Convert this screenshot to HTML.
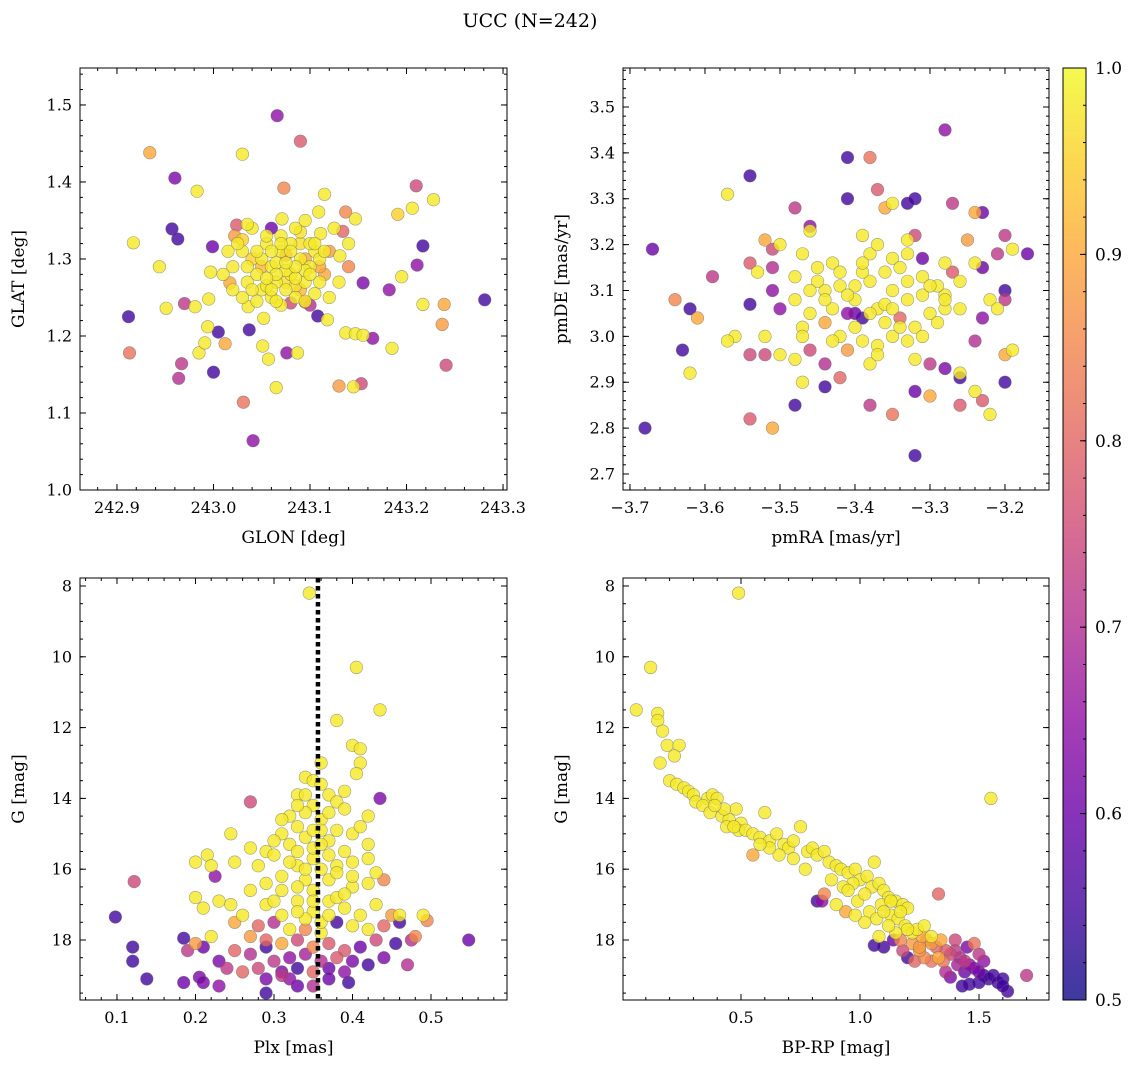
<!DOCTYPE html>
<html><head><meta charset="utf-8"><style>
html,body{margin:0;padding:0;background:#fff;}
svg{display:block;font-family:"DejaVu Serif","Liberation Serif",serif;}
</style></head><body>
<svg id="fig" width="1136" height="1067" viewBox="0 0 1136 1067" xmlns="http://www.w3.org/2000/svg">
<text x="530" y="27" font-size="19" text-anchor="middle">UCC (N=242)</text>
</svg>
<script>
// ---------- Panel 1: GLON / GLAT ----------
const glon = [243.066,243.090,242.934,243.030,242.960,243.073,243.210,242.983,243.228,243.115,243.206,243.191,243.137,243.147,243.071,242.957,243.024,243.109,243.134,242.917,242.999,242.963,243.217,243.022,243.111,242.944,243.131,243.211,243.155,243.182,243.195,242.997,243.017,242.912,242.951,242.970,242.981,242.995,243.036,243.052,243.037,243.005,242.994,243.080,243.095,243.108,243.118,243.137,243.147,243.155,243.165,243.217,243.239,243.281,243.237,243.241,243.185,242.913,242.967,242.985,242.991,243.012,243.051,243.076,243.057,243.087,243.000,242.964,243.065,243.130,243.145,243.153,243.031,243.041,
243.05,243.06,243.07,243.08,243.09,243.10,243.065,243.075,243.085,243.095,243.105,243.115,243.055,243.045,243.035,243.04,243.06,243.07,243.09,243.10,243.11,243.08,243.07,243.05,243.03,243.02,243.12,243.12,243.13,243.14,243.085,243.095,243.06,243.04,243.025,243.015,243.065,243.075,243.085,243.055,243.105,243.045,243.075,243.095,243.11,243.06,243.03,243.10,243.02,243.14,243.125,243.035,243.01,
243.065,243.075,243.085,243.095,243.08,243.07,243.09,243.10,243.06,243.05,243.045,243.055,243.075,243.085,243.095,243.065,243.11,243.105,243.04,243.035,243.055,243.09,243.115,243.03];
const glat = [1.486,1.453,1.438,1.436,1.405,1.392,1.395,1.388,1.377,1.384,1.366,1.358,1.361,1.352,1.352,1.339,1.344,1.361,1.336,1.321,1.316,1.326,1.317,1.330,1.333,1.290,1.304,1.292,1.269,1.260,1.277,1.283,1.269,1.225,1.236,1.242,1.238,1.248,1.238,1.223,1.208,1.205,1.212,1.243,1.244,1.226,1.221,1.204,1.203,1.201,1.197,1.241,1.241,1.247,1.215,1.162,1.184,1.178,1.164,1.178,1.191,1.190,1.187,1.178,1.170,1.178,1.153,1.145,1.133,1.135,1.134,1.138,1.114,1.064,
1.30,1.29,1.31,1.28,1.30,1.29,1.27,1.26,1.25,1.27,1.31,1.28,1.32,1.28,1.27,1.30,1.25,1.24,1.26,1.32,1.30,1.32,1.33,1.26,1.31,1.29,1.31,1.25,1.27,1.29,1.34,1.35,1.34,1.34,1.32,1.31,1.295,1.285,1.275,1.265,1.255,1.245,1.305,1.285,1.27,1.31,1.25,1.24,1.26,1.32,1.34,1.345,1.28,
1.28,1.27,1.29,1.30,1.31,1.32,1.32,1.28,1.26,1.29,1.31,1.275,1.295,1.265,1.245,1.245,1.29,1.32,1.26,1.29,1.33,1.335,1.31,1.325];
const probA = [.65,.78,.90,.98,.62,.85,.75,.98,.98,.98,.98,.95,.85,.98,.98,.55,.78,.98,.80,.98,.60,.55,.55,.88,.98,.98,.98,.65,.62,.65,.98,.98,.90,.55,.98,.72,.98,.98,.98,.98,.55,.55,.98,.75,.82,.55,.98,.98,.98,.98,.65,.98,.90,.55,.88,.75,.98,.82,.72,.98,.98,.90,.98,.65,.98,.98,.55,.70,.98,.88,.98,.75,.82,.65,
.98,.98,.98,.98,.98,.98,.98,.98,.98,.98,.98,.90,.98,.98,.98,.95,.98,.98,.92,.98,.98,.98,.98,.98,.98,.98,.88,.98,.98,.85,.98,.98,.60,.98,.98,.98,.98,.98,.98,.98,.98,.98,.85,.98,.98,.98,.98,.70,.98,.98,.98,.98,.98,
.98,.97,.98,.90,.98,.98,.97,.98,.98,.92,.98,.98,.98,.97,.98,.98,.90,.98,.98,.98,.98,.97,.98,.95];

// ---------- Panel 2: pmRA / pmDE ----------
const pmra = [-3.28,-3.41,-3.38,-3.54,-3.57,-3.41,-3.33,-3.32,-3.27,-3.37,-3.48,-3.36,-3.35,-3.23,-3.24,-3.46,-3.46,-3.67,-3.52,-3.39,-3.33,-3.32,-3.25,-3.20,-3.17,-3.19,-3.54,-3.51,-3.50,-3.51,-3.53,-3.47,-3.43,-3.38,-3.35,-3.31,-3.28,-3.24,-3.21,-3.20,-3.22,-3.20,-3.23,-3.27,-3.31,-3.59,-3.64,-3.62,-3.61,-3.54,-3.51,-3.50,-3.48,-3.46,-3.47,-3.47,-3.44,-3.43,-3.41,-3.40,-3.38,-3.37,-3.36,-3.35,-3.34,-3.33,-3.32,-3.30,-3.28,-3.28,-3.26,-3.29,-3.45,-3.42,-3.39,-3.36,-3.33,-3.31,-3.40,-3.42,-3.39,-3.37,-3.35,-3.33,-3.31,-3.29,-3.44,-3.46,-3.43,-3.41,-3.48,-3.50,-3.52,-3.56,-3.57,-3.52,-3.54,-3.47,-3.44,-3.42,-3.44,-3.38,-3.37,-3.32,-3.32,-3.30,-3.30,-3.28,-3.26,-3.26,-3.24,-3.24,-3.23,-3.26,-3.22,-3.20,-3.19,-3.20,-3.23,-3.21,-3.48,-3.51,-3.54,-3.38,-3.35,-3.32,-3.63,-3.62,-3.68,-3.48,-3.45,-3.42,-3.40,-3.36,-3.38,-3.34,-3.44,-3.46,-3.41,-3.39,-3.37,-3.34,-3.33,-3.30,-3.28,-3.26,-3.40,-3.39,-3.35];
const pmde = [3.45,3.39,3.39,3.35,3.31,3.30,3.29,3.30,3.29,3.32,3.28,3.28,3.29,3.27,3.27,3.24,3.23,3.19,3.21,3.22,3.21,3.22,3.21,3.22,3.18,3.19,3.16,3.19,3.20,3.15,3.14,3.18,3.16,3.18,3.17,3.17,3.16,3.16,3.18,3.10,3.08,3.08,3.15,3.14,3.13,3.13,3.08,3.06,3.04,3.07,3.10,3.06,3.08,3.05,3.02,3.00,3.10,3.06,3.05,3.08,3.12,3.06,3.03,3.10,3.04,3.08,3.02,3.05,3.06,3.09,3.12,3.11,3.12,3.14,3.14,3.14,3.12,3.09,3.02,3.00,2.99,2.98,3.00,2.99,3.00,3.03,3.03,2.97,2.99,2.97,2.95,2.96,3.00,3.00,2.99,2.96,2.96,2.90,2.89,2.91,2.94,2.94,2.96,2.95,2.88,2.87,2.94,2.93,2.91,2.92,2.99,2.88,2.86,2.85,2.83,2.96,2.97,2.90,3.04,3.06,2.85,2.80,2.82,2.85,2.83,2.74,2.97,2.92,2.80,3.13,3.15,3.11,3.11,3.07,3.05,3.02,3.08,3.10,3.09,3.16,3.20,3.15,3.18,3.11,3.08,3.06,3.05,3.04,3.06];
const probB = [.65,.55,.82,.55,.98,.55,.55,.55,.72,.78,.72,.90,.98,.60,.90,.65,.98,.60,.90,.98,.98,.75,.88,.72,.60,.98,.78,.75,.98,.70,.98,.98,.98,.98,.98,.60,.98,.98,.72,.55,.98,.72,.60,.78,.98,.72,.85,.55,.90,.55,.65,.65,.98,.98,.98,.98,.98,.98,.65,.98,.98,.98,.98,.98,.80,.98,.98,.98,.98,.98,.98,.98,.98,.98,.98,.98,.98,.98,.98,.98,.98,.98,.98,.98,.98,.98,.90,.75,.98,.88,.98,.98,.98,.98,.98,.75,.75,.98,.55,.80,.70,.98,.98,.98,.60,.90,.72,.62,.55,.98,.70,.98,.78,.78,.98,.90,.98,.55,.65,.98,.55,.90,.78,.72,.82,.55,.55,.98,.55,.98,.98,.98,.98,.98,.98,.98,.98,.98,.98,.98,.98,.98,.98,.98,.98,.98,.60,.55,.98];

// ---------- Panel 3: Plx / G ----------
const plx = [0.345,0.405,0.435,0.38,0.40,0.41,0.41,0.405,0.36,0.34,0.35,0.33,0.37,0.38,0.39,0.435,0.42,0.27,0.245,0.32,0.33,0.35,0.36,0.31,0.32,0.34,0.37,0.38,0.40,0.39,0.27,0.29,0.30,0.28,0.33,0.35,0.36,0.38,0.40,0.42,0.43,0.44,0.42,0.40,0.37,0.34,0.31,0.29,0.27,0.25,0.20,0.215,0.22,0.225,0.122,0.23,0.20,0.21,0.245,0.26,0.29,0.31,0.33,0.35,0.37,0.39,0.41,0.43,0.45,0.46,0.49,0.495,0.098,0.25,0.28,0.30,0.32,0.34,0.36,0.38,0.40,0.42,0.44,0.46,0.48,0.22,0.20,0.185,0.27,0.29,0.31,0.33,0.35,0.37,0.39,0.41,0.43,0.455,0.475,0.548,0.12,0.12,0.19,0.21,0.23,0.25,0.27,0.29,0.30,0.32,0.34,0.36,0.38,0.40,0.42,0.44,0.47,0.24,0.26,0.28,0.31,0.33,0.35,0.37,0.39,0.138,0.185,0.205,0.21,0.23,0.29,0.32,0.37,0.395,0.29,0.33,0.35,0.31,0.34,0.36,0.30,0.35,0.33,0.38,0.36,0.34,0.35,0.33,0.37,
0.31,0.33,0.35,0.37,0.39,0.36,0.34,0.32,0.34,0.36,0.38,0.40,0.39,0.37,0.33,0.31,0.35,0.30,0.41,0.42];
const gmagA = [8.2,10.3,11.5,11.8,12.5,12.6,13.0,13.3,13.0,13.4,13.5,13.9,13.9,14.1,14.3,14.0,14.5,14.1,15.0,14.5,14.8,14.2,14.6,15.0,15.3,15.1,15.2,14.9,15.0,15.5,15.4,15.5,15.6,15.9,15.9,15.7,16.0,15.9,15.8,15.7,16.1,16.3,16.4,16.5,16.3,16.3,16.2,16.4,16.6,15.8,15.8,15.6,15.9,16.2,16.35,16.9,16.8,17.1,17.0,17.3,17.0,17.3,16.9,17.2,16.9,17.1,17.3,17.0,17.3,17.3,17.3,17.45,17.35,17.5,17.6,17.5,17.7,17.7,17.8,17.5,17.6,17.7,17.6,17.5,17.9,17.9,18.1,17.95,17.9,18.0,18.1,18.0,18.2,18.1,18.3,18.2,18.0,18.1,18.0,18.0,18.2,18.6,18.3,18.2,18.6,18.3,18.4,18.2,18.6,18.5,18.4,18.6,18.5,18.6,18.7,18.5,18.7,18.8,18.9,18.8,18.9,18.8,18.9,18.8,18.9,19.1,19.2,19.05,19.2,19.3,19.1,19.1,19.1,19.2,19.5,19.3,19.3,19.0,17.4,17.5,16.9,16.6,16.5,16.8,14.9,14.4,15.4,15.5,15.6,
14.6,14.2,14.9,14.4,13.8,13.6,13.9,15.8,16.0,15.3,16.1,16.2,16.7,17.3,17.2,16.6,16.9,15.2,14.8,15.3];
const probC = [.98,.98,.98,.98,.98,.98,.98,.98,.98,.98,.98,.98,.98,.98,.98,.62,.98,.75,.98,.98,.98,.98,.98,.98,.98,.98,.98,.98,.98,.98,.98,.98,.98,.98,.98,.98,.98,.98,.98,.98,.98,.85,.98,.98,.98,.98,.98,.98,.98,.98,.98,.98,.98,.65,.75,.98,.98,.98,.98,.98,.98,.98,.98,.98,.98,.98,.98,.98,.88,.98,.98,.85,.55,.90,.80,.70,.98,.85,.98,.55,.98,.98,.80,.55,.85,.98,.88,.55,.88,.80,.90,.75,.85,.78,.78,.60,.75,.55,.70,.60,.55,.55,.72,.60,.62,.80,.70,.55,.72,.65,.68,.70,.78,.62,.55,.62,.70,.72,.80,.75,.62,.55,.80,.60,.65,.55,.60,.62,.62,.65,.62,.65,.60,.55,.55,.60,.70,.72,.98,.98,.98,.98,.98,.98,.98,.98,.98,.98,.98,
.98,.98,.98,.98,.98,.98,.98,.98,.98,.98,.98,.98,.98,.98,.98,.98,.98,.98,.98,.98];
const plxRef = [0.356];

// ---------- Panel 4: BP-RP / G ----------
const bprp = [0.49,0.12,0.06,0.15,0.15,0.17,0.19,0.24,0.16,0.22,0.20,0.23,0.26,0.28,0.30,0.36,0.38,0.40,0.31,0.34,0.37,0.42,0.45,0.48,0.50,0.44,0.49,0.52,0.55,0.58,0.60,0.62,0.65,0.68,0.70,0.72,0.75,0.78,0.80,0.82,0.85,0.87,0.90,0.92,0.95,0.98,1.00,1.03,1.05,1.08,1.10,1.12,1.15,1.18,1.20,1.06,0.97,0.93,0.88,0.85,0.95,0.99,1.02,1.04,1.07,1.09,0.55,0.84,1.33,1.55,1.13,1.16,1.19,1.22,1.24,1.26,1.28,1.30,1.32,1.34,1.36,1.38,1.40,1.42,1.44,1.46,1.48,1.50,1.52,1.54,1.56,1.58,1.60,1.62,1.60,1.50,1.46,1.43,1.38,1.70,1.44,1.10,1.06,1.14,1.18,1.20,1.25,1.27,1.30,1.23,1.33,1.35,1.40,1.45,1.48,1.50,1.52,1.41,1.36,1.15,1.17,1.20,1.22,1.25,1.12,1.08,1.02,0.98,0.94,0.90,0.82,0.77,0.72,0.66,0.62,0.58,0.47,0.43,0.39,1.10,1.13,1.17,1.27,1.30];
const gmagB = [8.2,10.3,11.5,11.6,11.8,12.1,12.5,12.5,13.0,12.8,13.5,13.6,13.7,13.8,13.9,14.0,13.9,14.0,14.1,14.2,14.4,14.5,14.6,14.3,14.7,14.8,14.9,14.9,15.0,15.1,14.4,15.2,15.0,15.3,15.4,15.2,14.8,15.5,15.4,15.6,15.5,15.8,15.9,16.0,16.1,16.0,16.3,16.2,16.5,16.4,16.6,16.8,16.9,17.0,17.1,15.8,16.4,16.5,16.3,16.7,16.6,16.9,16.7,17.2,17.4,17.0,15.6,16.9,16.7,14.0,17.3,17.4,17.6,17.8,17.7,17.9,18.0,18.1,18.2,18.0,18.3,18.4,18.3,18.5,18.6,18.7,18.8,18.9,19.0,19.1,19.0,19.2,19.1,19.45,19.3,19.2,19.25,19.3,19.05,19.0,18.9,18.2,18.15,18.0,18.3,18.5,18.3,18.5,18.6,18.6,18.5,18.6,18.0,18.2,18.1,18.4,18.6,18.7,18.9,17.8,18.0,17.7,18.1,18.2,17.6,17.9,17.5,17.3,17.2,17.0,16.9,16.0,15.7,15.6,15.4,15.3,14.8,14.3,14.2,17.2,16.9,17.2,17.6,17.9];
const probD = [.98,.98,.98,.98,.98,.98,.98,.98,.98,.98,.98,.98,.98,.98,.98,.98,.98,.98,.98,.98,.98,.98,.98,.98,.98,.98,.98,.98,.98,.98,.98,.98,.98,.98,.98,.98,.98,.98,.98,.98,.98,.98,.98,.98,.98,.98,.98,.98,.98,.98,.98,.98,.98,.98,.98,.98,.98,.98,.98,.85,.98,.98,.98,.98,.98,.98,.90,.65,.80,.98,.98,.98,.98,.98,.98,.90,.85,.88,.80,.90,.78,.75,.72,.70,.72,.65,.62,.60,.55,.55,.55,.55,.55,.55,.55,.55,.55,.55,.62,.72,.60,.55,.55,.60,.75,.55,.88,.85,.82,.80,.90,.82,.75,.62,.82,.72,.65,.68,.70,.98,.85,.98,.88,.88,.98,.98,.98,.98,.90,.98,.55,.98,.98,.98,.98,.98,.98,.98,.98,.98,.98,.98,.98,.98];

const cbTicks = [0.5,0.6,0.7,0.8,0.9,1.0];

const NS = "http://www.w3.org/2000/svg";
const svg = document.getElementById('fig');
function el(tag, attrs, parent){ const e=document.createElementNS(NS,tag); for(const k in attrs) e.setAttribute(k,attrs[k]); (parent||svg).appendChild(e); return e; }
const stops=[[0,'#0d0887'],[0.1,'#41049d'],[0.2,'#6a00a8'],[0.3,'#8f0da4'],[0.4,'#b12a90'],[0.5,'#cc4778'],[0.6,'#e16462'],[0.7,'#f2844b'],[0.8,'#fca636'],[0.9,'#fcce25'],[1,'#f0f921']];
function hex(h){return [1,3,5].map(i=>parseInt(h.substr(i,2),16));}
function plasma(t){ t=Math.max(0,Math.min(1,t)); for(let i=1;i<stops.length;i++){ if(t<=stops[i][0]){ const a=stops[i-1],b=stops[i]; const f=(t-a[0])/(b[0]-a[0]); const ca=hex(a[1]),cb=hex(b[1]); return 'rgb('+ca.map((v,j)=>Math.round(v+(cb[j]-v)*f)).join(',')+')'; } } return stops[10][1]; }
function pcol(p){ return plasma((p-0.5)/0.5); }
function fmt(v,d){ const s=v.toFixed(d); return s.replace('-','\u2212'); }

function panel(o){
  const g=el('g',{}); 
  
  
  const {x0,x1,y0,y1,xmin,xmax,ymin,ymax,inv}=o;
  const sx=v=>x0+(v-xmin)/(xmax-xmin)*(x1-x0);
  const sy=v=> inv ? y0+(v-ymin)/(ymax-ymin)*(y1-y0) : y1-(v-ymin)/(ymax-ymin)*(y1-y0);
  const pg=el('g',{},g);
  
  
  const idx=o.xs.map((_,i)=>i).sort((a,b)=>o.ps[a]-o.ps[b]);
  const cp=el('clipPath',{id:'c'+o.name},g); el('rect',{x:x0,y:y0,width:x1-x0,height:y1-y0},cp);
  pg.setAttribute('clip-path','url(#c'+o.name+')');
  idx.forEach(i=>{
    const c=el('circle',{cx:sx(o.xs[i]).toFixed(1),cy:sy(o.ys[i]).toFixed(1),r:6.3,fill:pcol(o.ps[i]),'fill-opacity':0.8,stroke:'#666','stroke-opacity':0.6,'stroke-width':0.6},pg);
    
    
  });
  if(o.extra) o.extra(g,sx,sy);
  el('rect',{x:x0,y:y0,width:x1-x0,height:y1-y0,fill:'none',stroke:'#000','stroke-width':1},g);
  const tk=(vals,len,isX,labels,dec)=>{
    vals.forEach(v=>{
      if(isX){ const x=sx(v); if(x<x0-0.5||x>x1+0.5) return;
        el('line',{x1:x,y1:y1,x2:x,y2:y1-len,stroke:'#000','stroke-width':1},g);
        el('line',{x1:x,y1:y0,x2:x,y2:y0+len,stroke:'#000','stroke-width':1},g);
        if(labels){ const t=el('text',{x:x,y:y1+23,'font-size':16,'text-anchor':'middle'},g); t.textContent=fmt(v,dec);
            }
      } else { const y=sy(v); if(y<y0-0.5||y>y1+0.5) return;
        el('line',{x1:x0,y1:y,x2:x0+len,y2:y,stroke:'#000','stroke-width':1},g);
        el('line',{x1:x1,y1:y,x2:x1-len,y2:y,stroke:'#000','stroke-width':1},g);
        if(labels){ const t=el('text',{x:x0-8,y:y+5.5,'font-size':16,'text-anchor':'end'},g); t.textContent=fmt(v,dec);
            }
      }
    });
  };
  const rng=(a,b,s)=>{const r=[];for(let v=a;v<=b+1e-9;v+=s)r.push(Math.round(v*1e6)/1e6);return r;};
  tk(rng(o.xm[0],o.xm[1],o.xm[2]),3,true,false);
  tk(rng(o.ym[0],o.ym[1],o.ym[2]),3,false,false);
  tk(o.xt,6,true,true,o.xd);
  tk(o.yt,6,false,true,o.yd);
  const xl=el('text',{x:(x0+x1)/2,y:y1+53,'font-size':17,'text-anchor':'middle'},g); xl.textContent=o.xlab;
   
  const yx=o.ylx, yy=(y0+y1)/2;
  const yl=el('text',{x:yx,y:yy,'font-size':17,'text-anchor':'middle',transform:'rotate(-90 '+yx+' '+yy+')'},g); yl.textContent=o.ylab;
   
}

panel({name:'glon-glat-panel',x0:80,x1:507,y0:68,y1:490,xmin:242.8617,xmax:243.3041,ymin:1.0,ymax:1.548,
  xs:glon,ys:glat,ps:probA,xt:[242.9,243.0,243.1,243.2,243.3],xd:1,yt:[1.0,1.1,1.2,1.3,1.4,1.5],yd:1,
  xm:[242.86,243.30,0.02],ym:[1.0,1.54,0.02],xlab:'GLON [deg]',ylab:'GLAT [deg]',ylx:24});
panel({name:'pm-panel',x0:623,x1:1049,y0:68,y1:490,xmin:-3.7093,xmax:-3.1413,ymin:2.6651,ymax:3.585,
  xs:pmra,ys:pmde,ps:probB,xt:[-3.7,-3.6,-3.5,-3.4,-3.3,-3.2],xd:1,yt:[2.7,2.8,2.9,3.0,3.1,3.2,3.3,3.4,3.5],yd:1,
  xm:[-3.70,-3.14,0.02],ym:[2.68,3.58,0.02],xlab:'pmRA [mas/yr]',ylab:'pmDE [mas/yr]',ylx:567});
panel({name:'plx-g-panel',x0:80,x1:507,y0:578,y1:1000,xmin:0.0529,xmax:0.5968,ymin:7.774,ymax:19.695,inv:true,
  xs:plx,ys:gmagA,ps:probC,xt:[0.1,0.2,0.3,0.4,0.5],xd:1,yt:[8,10,12,14,16,18],yd:0,
  xm:[0.06,0.58,0.02],ym:[8,19.5,0.5],xlab:'Plx [mas]',ylab:'G [mag]',ylx:24,
  extra:(g,sx,sy)=>{ const x=sx(plxRef[0]); const l=el('line',{x1:x,y1:578,x2:x,y2:1000,stroke:'#000','stroke-width':4.5,'stroke-dasharray':'4.5 3.5'},g);
      }});
panel({name:'cmd-panel',x0:623,x1:1049,y0:578,y1:1000,xmin:0.0042,xmax:1.7941,ymin:7.774,ymax:19.695,inv:true,
  xs:bprp,ys:gmagB,ps:probD,xt:[0.5,1.0,1.5],xd:1,yt:[8,10,12,14,16,18],yd:0,
  xm:[0.1,1.7,0.1],ym:[8,19.5,0.5],xlab:'BP-RP [mag]',ylab:'G [mag]',ylx:567});

(function(){
  const cx0=1063,cx1=1086,cy0=68,cy1=1000;
  const g=el('g',{});
  
  
  const defs=el('defs',{},g);
  const lg=el('linearGradient',{id:'plg',x1:0,y1:1,x2:0,y2:0},defs);
  stops.forEach(s=>el('stop',{offset:s[0],'stop-color':s[1]},lg));
  el('rect',{x:cx0,y:cy0,width:cx1-cx0,height:cy1-cy0,fill:'url(#plg)','fill-opacity':0.8},g);
  el('rect',{x:cx0,y:cy0,width:cx1-cx0,height:cy1-cy0,fill:'none',stroke:'#000','stroke-width':1},g);
  const sy=v=>cy1-(v-0.5)/0.5*(cy1-cy0);
  for(let k=0;k<=25;k++){ const v=0.5+k*0.02; const y=sy(v); el('line',{x1:cx1,y1:y,x2:cx1-3,y2:y,stroke:'#000','stroke-width':1},g); }
  cbTicks.forEach(v=>{ const y=sy(v); el('line',{x1:cx1,y1:y,x2:cx1-6,y2:y,stroke:'#000','stroke-width':1},g);
    const t=el('text',{x:cx1+9,y:y+6,'font-size':17},g); t.textContent=v.toFixed(1);
      });
})();
</script>
</body></html>
